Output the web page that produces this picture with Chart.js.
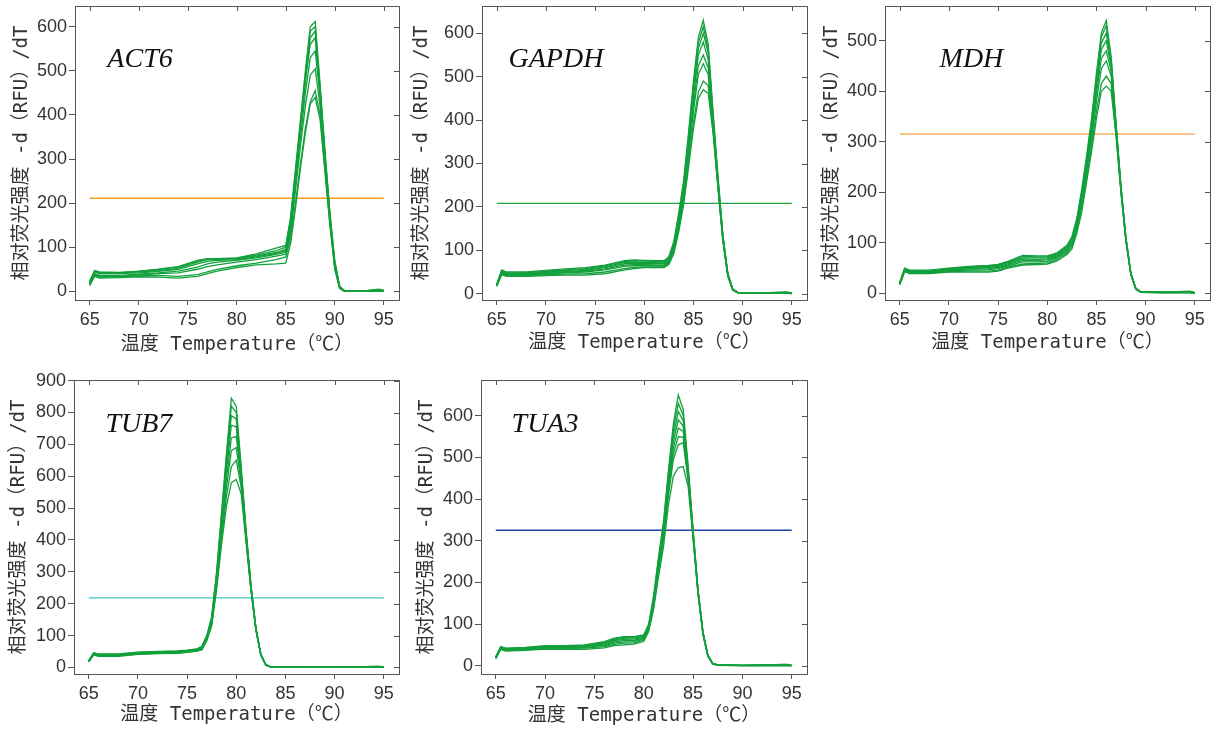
<!DOCTYPE html>
<html>
<head>
<meta charset="utf-8">
<script src="https://cdn.jsdelivr.net/npm/chart.js@4.4.1/dist/chart.umd.min.js"></script>
<style>
  body { margin: 0; background: #fff; }
  #wrap { position: relative; width: 1221px; height: 729px; overflow: hidden; }
  canvas { position: absolute; }
</style>
</head>
<body>
<div id="wrap">
  <canvas id="c1" width="405" height="362" style="left:0px;top:0px"></canvas>
  <canvas id="c2" width="405" height="362" style="left:405px;top:0px"></canvas>
  <canvas id="c3" width="411" height="362" style="left:810px;top:0px"></canvas>
  <canvas id="c4" width="405" height="361" style="left:0px;top:368px"></canvas>
  <canvas id="c5" width="405" height="361" style="left:405px;top:368px"></canvas>
</div>
<script>
// temperature ticks shared by every panel
const xTicks = [65, 70, 75, 80, 85, 90, 95];

// ---- ACT6 ----
const act6Temp = [65, 65.5, 66, 68, 70, 72, 74, 76, 77, 78, 80, 82, 84, 85, 85.5, 86, 86.5, 87, 87.5, 88, 88.5, 89, 89.5, 90, 90.5, 91, 93, 94.5, 95];
const act6A = [22, 47, 44, 43, 46, 50, 56, 70, 74, 73, 75, 82, 92, 100, 170, 280, 390, 500, 600, 612, 470, 320, 180, 70, 12, 1, 1, 4, 2];
const act6B = [20, 45, 42, 41, 44, 47, 52, 66, 72, 72, 74, 80, 88, 95, 160, 270, 380, 490, 590, 600, 460, 310, 175, 65, 10, 1, 1, 3, 1];
const act6C = [18, 44, 40, 40, 42, 45, 50, 62, 68, 70, 72, 78, 86, 92, 150, 260, 370, 475, 575, 590, 455, 305, 170, 62, 9, 1, 1, 2, 1];
const act6D = [24, 46, 43, 42, 45, 49, 55, 68, 73, 74, 76, 85, 98, 104, 165, 270, 375, 480, 560, 575, 450, 300, 168, 60, 10, 1, 1, 5, 2];
const act6E = [16, 40, 36, 36, 39, 42, 46, 55, 62, 66, 70, 76, 84, 88, 140, 245, 350, 450, 530, 545, 440, 295, 165, 58, 8, 0, 1, 2, 0];
const act6F = [15, 38, 34, 34, 37, 40, 42, 50, 56, 60, 66, 72, 80, 84, 130, 230, 330, 420, 490, 505, 420, 285, 160, 55, 8, 0, 0, 2, 0];
const act6G = [14, 36, 32, 33, 35, 36, 34, 38, 44, 50, 58, 64, 72, 78, 120, 200, 290, 370, 430, 455, 400, 275, 155, 52, 7, 0, 0, 1, 0];
const act6H = [13, 34, 30, 31, 33, 32, 30, 34, 40, 46, 54, 60, 62, 64, 110, 190, 280, 360, 425, 440, 390, 270, 150, 50, 6, 0, 0, 1, 0];
const act6Ticks = [0, 100, 200, 300, 400, 500, 600];

// ---- GAPDH ----
const gapdhTemp = [65, 65.5, 66, 68, 70, 72, 74, 76, 78, 79, 80, 82, 82.5, 83, 83.5, 84, 84.5, 85, 85.5, 86, 86.5, 87, 87.5, 88, 88.5, 89, 89.5, 92, 94.5, 95];
const gapdhA = [22, 55, 50, 50, 54, 57, 60, 66, 76, 78, 77, 76, 85, 120, 185, 260, 370, 490, 590, 630, 575, 420, 270, 135, 48, 11, 3, 2, 4, 2];
const gapdhB = [21, 53, 48, 48, 52, 55, 58, 64, 74, 76, 75, 74, 82, 115, 178, 252, 360, 478, 578, 615, 565, 410, 265, 132, 46, 10, 3, 2, 3, 1];
const gapdhC = [20, 52, 47, 46, 50, 53, 56, 62, 72, 73, 72, 71, 80, 112, 172, 245, 350, 465, 565, 600, 555, 405, 260, 130, 45, 10, 3, 2, 3, 1];
const gapdhD = [20, 50, 46, 45, 49, 51, 54, 60, 69, 70, 70, 69, 77, 108, 166, 238, 340, 452, 550, 580, 540, 398, 256, 128, 44, 10, 3, 2, 2, 1];
const gapdhE = [19, 48, 44, 44, 47, 49, 52, 57, 66, 67, 67, 66, 74, 104, 160, 230, 330, 435, 525, 550, 520, 390, 252, 125, 43, 9, 3, 2, 2, 1];
const gapdhF = [18, 46, 43, 43, 46, 48, 50, 55, 63, 65, 65, 64, 72, 100, 155, 222, 318, 420, 505, 530, 505, 385, 250, 124, 42, 9, 2, 2, 2, 0];
const gapdhG = [18, 45, 41, 41, 44, 45, 46, 50, 58, 61, 62, 62, 70, 96, 148, 212, 300, 395, 465, 490, 480, 375, 245, 122, 41, 9, 2, 2, 2, 0];
const gapdhH = [17, 44, 40, 40, 42, 43, 43, 46, 55, 58, 60, 60, 67, 92, 142, 205, 290, 380, 450, 470, 462, 370, 242, 120, 40, 8, 2, 1, 1, 0];
const gapdhTicks = [0, 100, 200, 300, 400, 500, 600];

// ---- MDH ----
const mdhTemp = [65, 65.5, 66, 68, 70, 72, 74, 75, 76, 77.5, 79, 80, 81, 82, 82.5, 83, 83.5, 84, 84.5, 85, 85.5, 86, 86.5, 87, 87.5, 88, 88.5, 89, 89.5, 92, 94.5, 95];
const mdhA = [22, 50, 46, 46, 50, 53, 55, 57, 63, 75, 74, 74, 80, 95, 112, 148, 205, 272, 345, 435, 515, 540, 468, 335, 212, 110, 40, 10, 3, 2, 4, 2];
const mdhB = [21, 49, 45, 45, 49, 52, 54, 56, 62, 73, 72, 72, 78, 92, 108, 143, 198, 265, 338, 428, 507, 530, 462, 332, 210, 110, 40, 10, 3, 2, 3, 1];
const mdhC = [20, 48, 44, 44, 48, 51, 53, 55, 60, 70, 70, 70, 76, 90, 105, 140, 193, 258, 330, 418, 495, 515, 455, 330, 208, 108, 39, 10, 3, 2, 3, 1];
const mdhD = [20, 47, 43, 43, 47, 49, 51, 53, 58, 68, 67, 68, 74, 88, 102, 136, 188, 252, 322, 408, 482, 500, 448, 327, 206, 107, 39, 9, 3, 2, 2, 1];
const mdhE = [19, 46, 42, 42, 46, 48, 49, 51, 56, 65, 65, 66, 72, 85, 99, 132, 182, 245, 312, 395, 465, 480, 440, 324, 205, 106, 38, 9, 3, 2, 2, 1];
const mdhF = [18, 45, 41, 41, 45, 46, 47, 49, 54, 62, 62, 63, 70, 83, 96, 128, 176, 238, 302, 380, 445, 460, 430, 320, 203, 105, 38, 9, 2, 2, 2, 0];
const mdhG = [18, 44, 40, 40, 43, 44, 44, 46, 52, 58, 59, 60, 67, 80, 92, 123, 168, 228, 290, 360, 415, 430, 415, 315, 200, 104, 37, 9, 2, 1, 2, 0];
const mdhH = [17, 43, 39, 39, 42, 42, 42, 44, 50, 56, 57, 58, 64, 77, 88, 118, 160, 220, 280, 345, 400, 410, 400, 310, 198, 103, 37, 8, 2, 1, 1, 0];
const mdhTicks = [0, 100, 200, 300, 400, 500];

// ---- TUB7 ----
const tub7Temp = [65, 65.5, 66, 68, 70, 72, 74, 75, 76, 76.5, 77, 77.5, 78, 78.5, 79, 79.5, 80, 80.5, 81, 81.5, 82, 82.5, 83, 83.5, 85, 90, 94.5, 95];
const tub7A = [22, 46, 42, 42, 48, 50, 52, 54, 58, 66, 100, 160, 300, 485, 670, 845, 820, 630, 430, 258, 125, 42, 9, 2, 1, 1, 3, 2];
const tub7B = [21, 45, 41, 41, 47, 49, 51, 53, 57, 64, 97, 155, 292, 475, 655, 820, 800, 620, 425, 255, 123, 41, 9, 2, 1, 1, 3, 1];
const tub7C = [20, 44, 40, 40, 46, 48, 50, 52, 56, 62, 94, 150, 285, 462, 635, 790, 780, 610, 420, 252, 122, 41, 8, 2, 1, 1, 2, 1];
const tub7D = [20, 43, 39, 39, 45, 47, 49, 51, 55, 60, 92, 146, 278, 450, 615, 760, 755, 600, 415, 250, 121, 40, 8, 2, 1, 1, 2, 1];
const tub7E = [19, 42, 38, 38, 44, 46, 48, 50, 54, 58, 90, 142, 270, 435, 590, 720, 725, 590, 410, 248, 120, 40, 8, 2, 1, 0, 2, 0];
const tub7F = [18, 41, 37, 37, 43, 45, 47, 49, 53, 57, 88, 138, 262, 420, 565, 680, 690, 578, 405, 245, 119, 39, 8, 2, 0, 0, 2, 0];
const tub7G = [18, 40, 36, 36, 42, 44, 45, 48, 52, 56, 86, 134, 254, 400, 535, 630, 650, 565, 400, 243, 118, 39, 7, 1, 0, 0, 1, 0];
const tub7H = [17, 39, 35, 35, 41, 43, 44, 47, 51, 55, 84, 130, 245, 385, 505, 580, 590, 545, 392, 240, 117, 38, 7, 1, 0, 0, 1, 0];
const tub7Ticks = [0, 100, 200, 300, 400, 500, 600, 700, 800, 900];

// ---- TUA3 ----
const tua3Temp = [65, 65.5, 66, 68, 70, 72, 74, 76, 77, 78, 79, 80, 80.5, 81, 81.5, 82, 82.5, 83, 83.5, 84, 84.5, 85, 85.5, 86, 86.5, 87, 87.5, 90, 94.5, 95];
const tua3A = [22, 46, 42, 44, 48, 48, 50, 58, 66, 70, 70, 74, 100, 168, 262, 345, 468, 580, 650, 615, 480, 328, 184, 82, 26, 5, 2, 1, 3, 1];
const tua3B = [21, 45, 41, 43, 47, 47, 49, 56, 64, 68, 68, 72, 97, 163, 255, 338, 458, 566, 630, 600, 472, 324, 182, 81, 25, 5, 2, 1, 3, 1];
const tua3C = [20, 44, 40, 42, 46, 46, 48, 54, 62, 66, 66, 70, 95, 158, 248, 330, 448, 552, 610, 588, 466, 321, 180, 80, 25, 5, 2, 1, 2, 1];
const tua3D = [20, 43, 39, 41, 45, 45, 47, 52, 60, 63, 64, 68, 92, 154, 242, 322, 438, 538, 590, 575, 460, 318, 178, 79, 24, 5, 2, 1, 2, 0];
const tua3E = [19, 42, 38, 40, 44, 44, 45, 50, 57, 60, 61, 66, 90, 150, 236, 315, 428, 522, 570, 562, 455, 315, 177, 78, 24, 5, 2, 1, 2, 0];
const tua3F = [18, 41, 37, 39, 43, 43, 44, 48, 54, 57, 58, 64, 88, 146, 230, 308, 418, 508, 550, 548, 450, 312, 175, 77, 23, 4, 2, 0, 1, 0];
const tua3G = [18, 40, 36, 38, 42, 41, 42, 46, 51, 54, 55, 62, 86, 142, 224, 300, 408, 495, 530, 535, 445, 310, 174, 76, 23, 4, 1, 0, 1, 0];
const tua3H = [17, 39, 35, 37, 40, 39, 39, 43, 48, 50, 52, 58, 82, 136, 214, 285, 385, 455, 475, 478, 430, 305, 172, 75, 22, 4, 1, 0, 1, 0];
const tua3Ticks = [0, 100, 200, 300, 400, 500, 600];

// threshold lines (y value) per gene
const thresholds = [211, 208, 315, 218, 325];

const yTitle = '相对荧光强度 -d（RFU）/dT';
const xTitle = '温度 Temperature（℃）';
const titleFont = { family: "'DejaVu Sans Mono', 'Noto Sans CJK SC', monospace", size: 19 };
const tickFont = { family: "'Liberation Sans', Arial, sans-serif", size: 18 };
const frameColor = '#555';
const textColor = '#333';
const curveColor = '#12a03c';

const panels = [
  { id: 'c1', label: 'ACT6', temp: act6Temp, curves: [act6A, act6B, act6C, act6D, act6E, act6F, act6G, act6H],
    yTicks: act6Ticks, yMin: -19.7, yMax: 647, thr: 0, thrColor: '#f7a11a', thrWidth: 1.7, labelAt: [66.8, 509],
    axisW: 75, axisH: 62, padTop: 6, padRight: 6, yTitlePad: 11, xTitlePad: 6 },
  { id: 'c2', label: 'GAPDH', temp: gapdhTemp, curves: [gapdhA, gapdhB, gapdhC, gapdhD, gapdhE, gapdhF, gapdhG, gapdhH],
    yTicks: gapdhTicks, yMin: -14.5, yMax: 663, thr: 1, thrColor: '#25a244', thrWidth: 1.3, labelAt: [66.2, 522],
    axisW: 77, axisH: 62, padTop: 6, padRight: 3, yTitlePad: 6, xTitlePad: 8 },
  { id: 'c3', label: 'MDH', temp: mdhTemp, curves: [mdhA, mdhB, mdhC, mdhD, mdhE, mdhF, mdhG, mdhH],
    yTicks: mdhTicks, yMin: -13.3, yMax: 568.7, thr: 2, thrColor: '#f9b878', thrWidth: 1.7, labelAt: [69.05, 448],
    axisW: 75, axisH: 62, padTop: 6, padRight: 11, yTitlePad: 11, xTitlePad: 8 },
  { id: 'c4', label: 'TUB7', temp: tub7Temp, curves: [tub7A, tub7B, tub7C, tub7D, tub7E, tub7F, tub7G, tub7H],
    yTicks: tub7Ticks, yMin: -20.7, yMax: 902, thr: 3, thrColor: '#3cc4c4', thrWidth: 1.3, labelAt: [66.7, 740],
    axisW: 74, axisH: 55, padTop: 12, padRight: 6, yTitlePad: 8, xTitlePad: 3 },
  { id: 'c5', label: 'TUA3', temp: tua3Temp, curves: [tua3A, tua3B, tua3C, tua3D, tua3E, tua3F, tua3G, tua3H],
    yTicks: tua3Ticks, yMin: -19.9, yMax: 685.6, thr: 4, thrColor: '#2140aa', thrWidth: 1.5, labelAt: [66.6, 562],
    axisW: 76, axisH: 55, padTop: 12, padRight: 3, yTitlePad: 11, xTitlePad: 1.5 }
];

// closed frame, inward ticks on top/right, and the gene name
const framePlugin = {
  id: 'frame',
  afterDraw(chart) {
    const { ctx, chartArea: a, scales } = chart;
    const p = chart.options.plugins.frame;
    ctx.save();
    ctx.strokeStyle = frameColor;
    ctx.lineWidth = 1;
    ctx.strokeRect(Math.round(a.left) + 0.5, Math.round(a.top) + 0.5, Math.round(a.right - a.left), Math.round(a.bottom - a.top));
    ctx.beginPath();
    scales.y.ticks.forEach(t => {
      const y = Math.round(scales.y.getPixelForValue(t.value)) + 0.5;
      ctx.moveTo(a.right - 5, y); ctx.lineTo(a.right, y);
    });
    scales.x.ticks.forEach(t => {
      const x = Math.round(scales.x.getPixelForValue(t.value)) + 0.5;
      ctx.moveTo(x, a.top); ctx.lineTo(x, a.top + 5);
    });
    ctx.stroke();
    ctx.fillStyle = '#111';
    ctx.font = "italic 28px 'Liberation Serif', 'Times New Roman', serif";
    ctx.textBaseline = 'alphabetic';
    ctx.fillText(p.label, scales.x.getPixelForValue(p.labelAt[0]), scales.y.getPixelForValue(p.labelAt[1]));
    ctx.restore();
  }
};

panels.forEach(pn => {
  const datasets = pn.curves.map(c => ({
    data: pn.temp.map((t, i) => ({ x: t, y: c[i] })),
    borderColor: curveColor,
    borderWidth: 1.3,
    pointRadius: 0,
    tension: 0,
    fill: false
  }));
  datasets.push({
    data: [{ x: xTicks[0], y: thresholds[pn.thr] }, { x: xTicks[xTicks.length - 1], y: thresholds[pn.thr] }],
    borderColor: pn.thrColor,
    borderWidth: pn.thrWidth,
    pointRadius: 0,
    fill: false
  });

  new Chart(document.getElementById(pn.id), {
    type: 'line',
    data: { datasets },
    plugins: [framePlugin],
    options: {
      responsive: false,
      animation: false,
      events: [],
      layout: { padding: { top: pn.padTop, right: pn.padRight, left: 0, bottom: 0 } },
      plugins: {
        legend: { display: false },
        tooltip: { enabled: false },
        frame: { label: pn.label, labelAt: pn.labelAt }
      },
      scales: {
        x: {
          type: 'linear',
          min: 63.5,
          max: 96.55,
          afterBuildTicks: s => { s.ticks = xTicks.map(v => ({ value: v })); },
          afterFit: s => { s.height = pn.axisH; s.paddingLeft = 0; s.paddingRight = 0; },
          ticks: { font: tickFont, color: textColor, padding: 4, maxRotation: 0, autoSkip: false },
          grid: { drawOnChartArea: false, drawTicks: true, tickLength: 5, color: frameColor },
          border: { display: false },
          title: { display: true, text: xTitle, font: titleFont, color: textColor, padding: { top: 0, bottom: pn.xTitlePad } }
        },
        y: {
          type: 'linear',
          min: pn.yMin,
          max: pn.yMax,
          afterBuildTicks: s => { s.ticks = pn.yTicks.map(v => ({ value: v })); },
          afterFit: s => { s.width = pn.axisW; s.paddingTop = 0; s.paddingBottom = 0; },
          ticks: { font: tickFont, color: textColor, padding: 2, autoSkip: false },
          grid: { drawOnChartArea: false, drawTicks: true, tickLength: 6, color: frameColor },
          border: { display: false },
          title: { display: true, text: yTitle, font: titleFont, color: textColor, padding: { top: pn.yTitlePad, bottom: 0 } }
        }
      }
    }
  });
});
</script>
</body>
</html>
